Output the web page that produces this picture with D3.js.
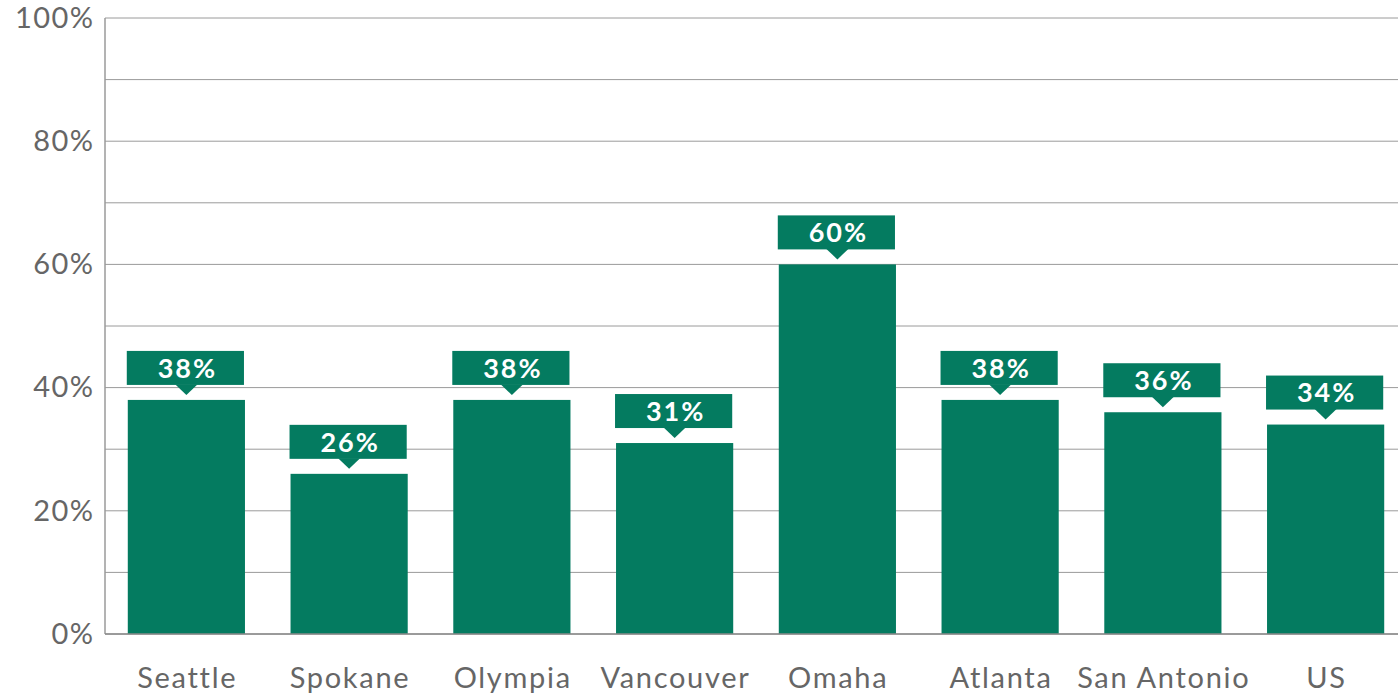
<!DOCTYPE html>
<html>
<head>
<meta charset="utf-8">
<script src="https://cdn.jsdelivr.net/npm/d3@7"></script>
<style>
  html, body { margin: 0; padding: 0; background: #fff; }
  svg { display: block; font-family: Lato, "Open Sans", sans-serif; }
</style>
</head>
<body>
<svg id="chart" width="1398" height="693"></svg>
<script>
const categories = ["Seattle", "Spokane", "Olympia", "Vancouver", "Omaha", "Atlanta", "San Antonio", "US"];
const values = [38, 26, 38, 31, 60, 38, 36, 34];
const yTicks = [0, 20, 40, 60, 80, 100];
const gridTicks = [0, 10, 20, 30, 40, 50, 60, 70, 80, 90, 100];

const W = 1398, H = 693;
const svg = d3.select("#chart");
const green = "#047b60";
const gray = "#666";

const x = d3.scaleBand().domain(categories).range([105, 1407]).paddingInner(0.28).paddingOuter(0.14);
const y = d3.scaleLinear().domain([0, 100]).range([634, 18]);

// gridlines
svg.append("g").selectAll("line").data(gridTicks).join("line")
  .attr("x1", 105).attr("x2", W)
  .attr("y1", d => y(d)).attr("y2", d => y(d))
  .attr("stroke", "#9a9a9a").attr("stroke-width", 1);

// bars
svg.append("g").selectAll("rect").data(values).join("rect")
  .attr("x", (d, i) => x(categories[i]))
  .attr("width", x.bandwidth())
  .attr("y", d => y(d))
  .attr("height", d => y(0) - y(d))
  .attr("fill", green);

// axes lines
svg.append("line").attr("x1", 105).attr("x2", 105).attr("y1", 18).attr("y2", 634)
  .attr("stroke", "#9a9a9a").attr("stroke-width", 1.5);
svg.append("line").attr("x1", 105).attr("x2", W).attr("y1", 634).attr("y2", 634)
  .attr("stroke", "#8a8a8a").attr("stroke-width", 1.5);

// y tick labels
const yAxis = d3.axisLeft(y).tickValues(yTicks).tickFormat(d => d + "%").tickSize(0).tickPadding(12);
const ya = svg.append("g").attr("transform", "translate(105,0)").call(yAxis);
ya.select(".domain").remove();
ya.selectAll("text").attr("font-size", 29).attr("fill", gray).attr("font-family", "Lato")
  .attr("letter-spacing", "1.4px").attr("dx", "1.4px");

// x labels
const xAxis = d3.axisBottom(x).tickSize(0).tickPadding(33);
const xa = svg.append("g").attr("transform", "translate(0,634)").call(xAxis);
xa.select(".domain").remove();
xa.selectAll("text").attr("font-size", 29).attr("fill", gray).attr("font-family", "Lato")
  .attr("letter-spacing", "1.7px").attr("dx", "0.85px");

// value labels
const gap = 15, boxH = 34, triH = 10, triW = 11;
const lbl = svg.append("g").selectAll("g").data(values).join("g")
  .attr("transform", (d, i) => `translate(${x(categories[i])},${y(d) - gap - boxH})`);
lbl.append("rect").attr("x", -1).attr("width", x.bandwidth()).attr("height", boxH).attr("fill", green);
lbl.append("path")
  .attr("d", `M${x.bandwidth() / 2 - triW},${boxH - 0.5} L${x.bandwidth() / 2 + triW},${boxH - 0.5} L${x.bandwidth() / 2},${boxH + triH} Z`)
  .attr("fill", green);
lbl.append("text")
  .attr("x", x.bandwidth() / 2 + 1).attr("y", boxH / 2).attr("dy", "0.36em")
  .attr("text-anchor", "middle").attr("fill", "#fff")
  .attr("font-size", 27).attr("font-weight", 700).attr("font-family", "Lato")
  .attr("letter-spacing", "2px")
  .text(d => d + "%");
</script>
</body>
</html>
